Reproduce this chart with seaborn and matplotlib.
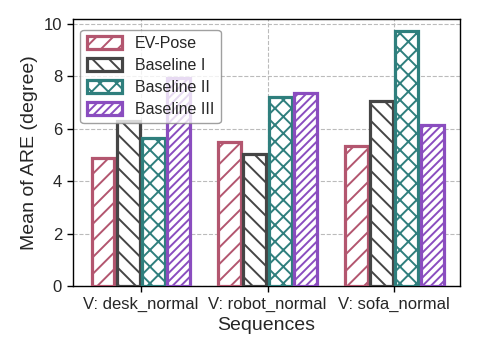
import matplotlib
matplotlib.use("Agg")
import matplotlib.pyplot as plt
import seaborn as sns
import pandas as pd

sequences = ["V: desk_normal", "V: robot_normal", "V: sofa_normal"]
methods = ["EV-Pose", "Baseline I", "Baseline II", "Baseline III"]
ev_pose = [4.9, 5.5, 5.35]
baseline1 = [6.3, 5.05, 7.05]
baseline2 = [5.65, 7.2, 9.72]
baseline3 = [7.95, 7.35, 6.15]

colors = ["#b3566f", "#454545", "#2f7f7d", "#8a4dbf"]
hatches = ["//", "\\\\", "xx", "////"]

rows = []
for m, vals in zip(methods, [ev_pose, baseline1, baseline2, baseline3]):
    for s, v in zip(sequences, vals):
        rows.append({"Sequence": s, "Method": m, "Value": v})
df = pd.DataFrame(rows)

sns.set_style("ticks")
plt.rcParams["font.family"] = ["Liberation Sans", "DejaVu Sans"]
plt.rcParams["hatch.linewidth"] = 1.4

fig = plt.figure(figsize=(4.78, 3.59), dpi=100)
ax = fig.add_axes([0.1517, 0.2033, 0.8107, 0.7437])
sns.barplot(data=df, x="Sequence", y="Value", hue="Method", hue_order=methods,
            palette=colors, gap=0.1, width=0.8, ax=ax, zorder=3)

for cont, c, h in zip(ax.containers, colors, hatches):
    for p in cont:
        p.set_facecolor("white")
        p.set_edgecolor(c)
        p.set_hatch(h)
        p.set_linewidth(2.3)
        p.set_zorder(3)

if ax.get_legend() is not None:
    ax.get_legend().remove()
leg = ax.legend(ax.containers, methods, loc="upper left", fontsize=11.5,
                framealpha=0.8, edgecolor="#888888", handlelength=2.2,
                handleheight=0.9, borderpad=0.4, labelspacing=0.42,
                bbox_to_anchor=(0.0, 0.99))

ax.set_ylim(0, 10.19)
ax.set_xlim(-0.54, 2.52)
ax.set_yticks([0, 2, 4, 6, 8, 10])
ax.grid(True, linestyle="--", color="#bbbbbb", linewidth=0.8, zorder=0)
ax.set_axisbelow(True)
for s in ax.spines.values():
    s.set_visible(True)
    s.set_color("black")
    s.set_linewidth(1.0)
ax.tick_params(labelsize=12, direction="out", length=4, width=1, color="black")
ax.set_xlabel("Sequences", fontsize=14)
ax.set_ylabel("Mean of ARE (degree)", fontsize=14)

fig.savefig("out.png", dpi=100)
